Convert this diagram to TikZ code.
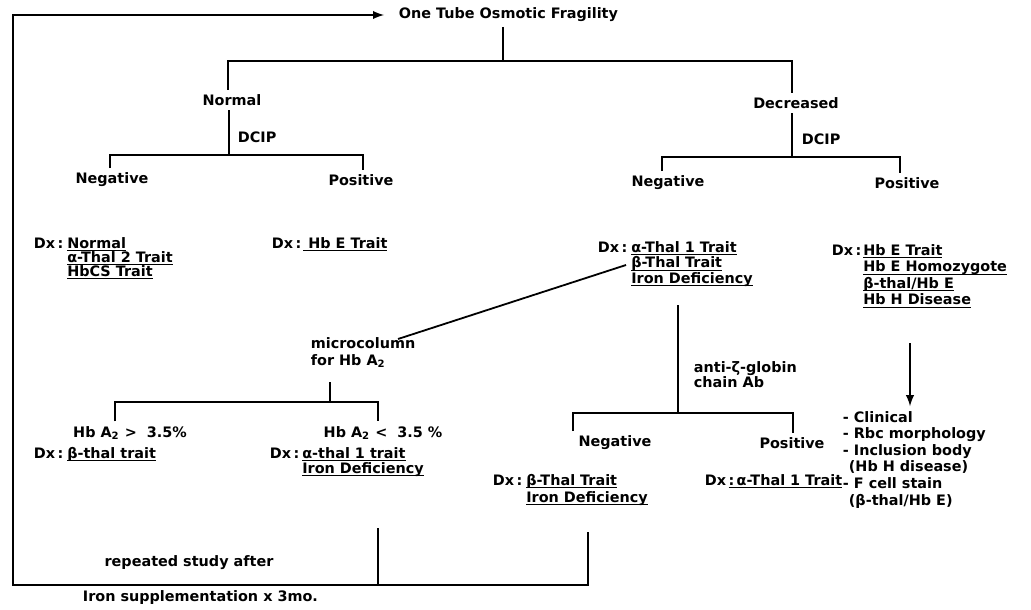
\documentclass[tikz,border=0pt]{standalone}
\usepackage{fontspec}
\setmainfont{DejaVu Sans}
\usepackage{tikz}
\usetikzlibrary{arrows}

\newcommand{\dxu}[1]{\setbox0\hbox{#1}\rlap{\rule[-1.4pt]{\wd0}{0.45pt}}\box0}
\newcommand{\stacklines}[2][7.5pt]{\vtop{\baselineskip=#1\relax\lineskiplimit=-5pt\let\\\cr\halign{##\hfil\cr#2\crcr}}}

\begin{document}
\begin{tikzpicture}[x=0.5pt,y=-0.5pt,font=\fontsize{7.2}{8}\selectfont\bfseries,inner sep=2pt,line width=0.9pt,>=latex]
    \useasboundingbox (0,0) rectangle (1031,609);
    \node [anchor=west,inner xsep=7pt] (osmotic) at (384,15) {One Tube Osmotic Fragility};
    \node (normal) at (232,100) {Normal};
    \node (decreased) at (796,103) {Decreased};
    \node [anchor=west] (dcipN) at (233,137) {DCIP};
    \node [anchor=west] (dcipD) at (797,139) {DCIP};
    \node (negN) at (112,180) {Negative};
    \node (posN) at (361,180) {Positive};
    \node (negD) at (668,183) {Negative};
    \node (posD) at (907,183) {Positive};
    \node [anchor=base west] (dxNegN) at (29,248) {Dx\,:\hspace{2pt}\stacklines[7pt]{\dxu{Normal}\\\dxu{α-Thal 2 Trait}\\\dxu{HbCS Trait}}};
    \node [anchor=base west] (dxPosN) at (267,248) {Dx\,:\hspace{1pt}\dxu{\ Hb E Trait}};
    \node [anchor=base west] (dxNegD) at (593,252) {Dx\,:\hspace{2pt}\stacklines[7.8pt]{\dxu{α-Thal 1 Trait}\\\dxu{β-Thal Trait}\\\dxu{Iron Deficiency}}};
    \node [anchor=base west] (dxPosD) at (827,255) {Dx\,:\hspace{1pt}\stacklines[8.3pt]{\dxu{Hb E Trait}\\\dxu{Hb E Homozygote}\\\dxu{β-thal/Hb E}\\\dxu{Hb H Disease}}};
    \node [anchor=base west] (micro) at (306,348) {\stacklines[8.5pt]{microcolumn\\for Hb A\textsubscript{2}}};
    \node (hbHigh) at (130,433) {Hb A\textsubscript{2} >\ \ 3.5\%};
    \node (hbLow) at (383,433) {Hb A\textsubscript{2} <\ \ 3.5 \%};
    \node [anchor=base west] (dxHigh) at (29,458) {Dx\,:\hspace{2pt}\dxu{β-thal trait}};
    \node [anchor=base west] (dxLow) at (265,458) {Dx\,:\hspace{1.5pt}\stacklines[7.5pt]{\dxu{α-thal 1 trait}\\\dxu{Iron Deficiency}}};
    \node [anchor=base west] (antiZeta) at (689,372) {\stacklines[7.5pt]{anti-ζ-globin\\chain Ab}};
    \node (negZ) at (615,443) {Negative};
    \node (posZ) at (792,443) {Positive};
    \node [anchor=base west] (dxNegZ) at (488,485) {Dx\,:\hspace{2pt}\stacklines[8.5pt]{\dxu{β-Thal Trait}\\\dxu{Iron Deficiency}}};
    \node [anchor=base west] (dxPosZ) at (700,485) {Dx\,\dxu{:\,α-Thal 1 Trait}};
    \node [anchor=base west] (workup) at (838,422) {\stacklines[8.3pt]{-\ Clinical\\-\ Rbc morphology\\-\ Inclusion body\\\hspace{3pt}(Hb H disease)\\-\ F cell stain\\\hspace{3pt}(β-thal/Hb E)}};
    \node (repeatTxt) at (189,563) {repeated study after};
    \node [anchor=west] (ironTxt) at (78,598) {Iron supplementation x 3mo.};
    % forks
    \coordinate (forkTop) at (503,61);
    \coordinate (forkTopL) at (228,61);
    \coordinate (forkTopR) at (792,61);
    \coordinate (forkN) at (229,155);
    \coordinate (forkNL) at (110,155);
    \coordinate (forkNR) at (363,155);
    \coordinate (forkD) at (792,157);
    \coordinate (forkDL) at (662,157);
    \coordinate (forkDR) at (900,157);
    \coordinate (forkA) at (330,402);
    \coordinate (forkAL) at (115,402);
    \coordinate (forkAR) at (378,402);
    \coordinate (forkZ) at (678,413);
    \coordinate (forkZL) at (573,413);
    \coordinate (forkZR) at (793,413);
    \coordinate (startA) at (330,382);
    \coordinate (startZ) at (678,305);
    \coordinate (startLow) at (378,528);
    \coordinate (startNegZ) at (588,532);
    \coordinate (startWork) at (910,343);
    \coordinate (slantA) at (398,339);
    \coordinate (slantB) at (626,265);
    \coordinate (loopBR) at (588,585);
    \coordinate (loopBL) at (13,585);
    \coordinate (joinLow) at (378,585);
    \draw (forkTop |- osmotic.south) -- (forkTop);
    \draw (forkTopL |- normal.north) -- (forkTopL) -- (forkTopR) -- (forkTopR |- decreased.north);
    \draw (forkN |- normal.south) -- (forkN);
    \draw (forkNL |- negN.north) -- (forkNL) -- (forkNR) -- (forkNR |- posN.north);
    \draw (forkD |- decreased.south) -- (forkD);
    \draw (forkDL |- negD.north) -- (forkDL) -- (forkDR) -- (forkDR |- posD.north);
    \draw (slantA) -- (slantB);
    \draw (startA) -- (forkA);
    \draw (forkAL |- hbHigh.north) -- (forkAL) -- (forkAR) -- (forkAR |- hbLow.north);
    \draw (startZ) -- (forkZ);
    \draw (forkZL |- negZ.north) -- (forkZL) -- (forkZR) -- (forkZR |- posZ.north);
    \draw [->] (startWork) -- (startWork |- workup.north);
    \draw (startLow) -- (joinLow);
    \draw [->] (startNegZ) -- (loopBR) -- (loopBL) -- (loopBL |- osmotic.west) -- (osmotic.west);
\end{tikzpicture}
\end{document}
